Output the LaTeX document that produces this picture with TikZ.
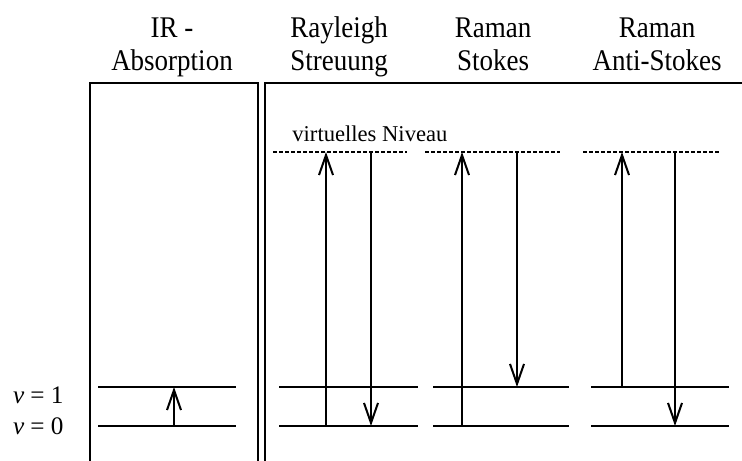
\documentclass[tikz,border=0pt]{standalone}
\usepackage{fontspec}
\setmainfont{Liberation Serif}
\newfontfamily\narrowserif[FakeStretch=0.9]{Liberation Serif}
\usetikzlibrary{arrows.meta}
\begin{document}
\begin{tikzpicture}[x=0.5pt,y=-0.5pt,
  frame/.style={line width=1pt},
  level/.style={line width=1pt},
  virt/.style={line width=0.8pt, dash pattern=on 2pt off 1pt},
  trans/.style={line width=1pt, -{Straight Barb[length=10pt,width=7pt,line width=1pt]}},
  head/.style={anchor=base, inner sep=0pt, font=\narrowserif\fontsize{15}{18}\selectfont},
  vlab/.style={anchor=base east, inner sep=0pt, font=\fontsize{12.6}{15}\selectfont},
  vnote/.style={anchor=base west, inner sep=0pt, font=\fontsize{11.3}{13}\selectfont}]
\useasboundingbox (0,0) rectangle (742,460);
\clip (0,0) rectangle (742,460);

% column headings
\node[head] (h1a) at (172,38) {IR -};
\node[head] (h1b) at (172,70) {Absorption};
\node[head] (h2a) at (339,38) {Rayleigh};
\node[head] (h2b) at (339,70) {Streuung};
\node[head] (h3a) at (493,38) {Raman};
\node[head] (h3b) at (493,70) {Stokes};
\node[head] (h4a) at (657,38) {Raman};
\node[head] (h4b) at (657,70) {Anti-Stokes};

% frames
\draw[frame] (90,470) -- (90,83) -- (258,83) -- (258,470);
\draw[frame] (265,470) -- (265,83) -- (760,83);

% vibrational levels v=0 and v=1
\foreach \n/\a/\b in {ir/98/236, ra/279/418, st/433/569, as/591/729}{
  \draw[level] (\a,387) coordinate (\n1l) -- (\b,387) coordinate (\n1r);
  \draw[level] (\a,426) coordinate (\n0l) -- (\b,426) coordinate (\n0r);
}
\node[vlab] (v1) at (64,403) {\textit{v} = 1};
\node[vlab] (v0) at (64,434) {\textit{v} = 0};

% virtual levels
\draw[virt] (273,152) coordinate (vra l) -- (407,152) coordinate (vra r);
\draw[virt] (425,152) coordinate (vst l) -- (560,152) coordinate (vst r);
\draw[virt] (583,152) coordinate (vas l) -- (719,152) coordinate (vas r);
\node[vnote] (vn) at (292,141) {virtuelles Niveau};

% transition end points
\coordinate (ir up0) at (174,426);  \coordinate (ir up1) at (174,387);
\coordinate (ra up0) at (326,426);  \coordinate (ra upv) at (326,152);
\coordinate (ra dnv) at (371,152);  \coordinate (ra dn0) at (371,426);
\coordinate (st up0) at (462,426);  \coordinate (st upv) at (462,152);
\coordinate (st dnv) at (517,152);  \coordinate (st dn1) at (517,387);
\coordinate (as up1) at (622,387);  \coordinate (as upv) at (622,152);
\coordinate (as dnv) at (675,152);  \coordinate (as dn0) at (675,426);

% transitions
\draw[trans] (ir up0) -- (ir up1);
\draw[trans] (ra up0) -- (ra upv);
\draw[trans] (ra dnv) -- (ra dn0);
\draw[trans] (st up0) -- (st upv);
\draw[trans] (st dnv) -- (st dn1);
\draw[trans] (as up1) -- (as upv);
\draw[trans] (as dnv) -- (as dn0);
\end{tikzpicture}
\end{document}
